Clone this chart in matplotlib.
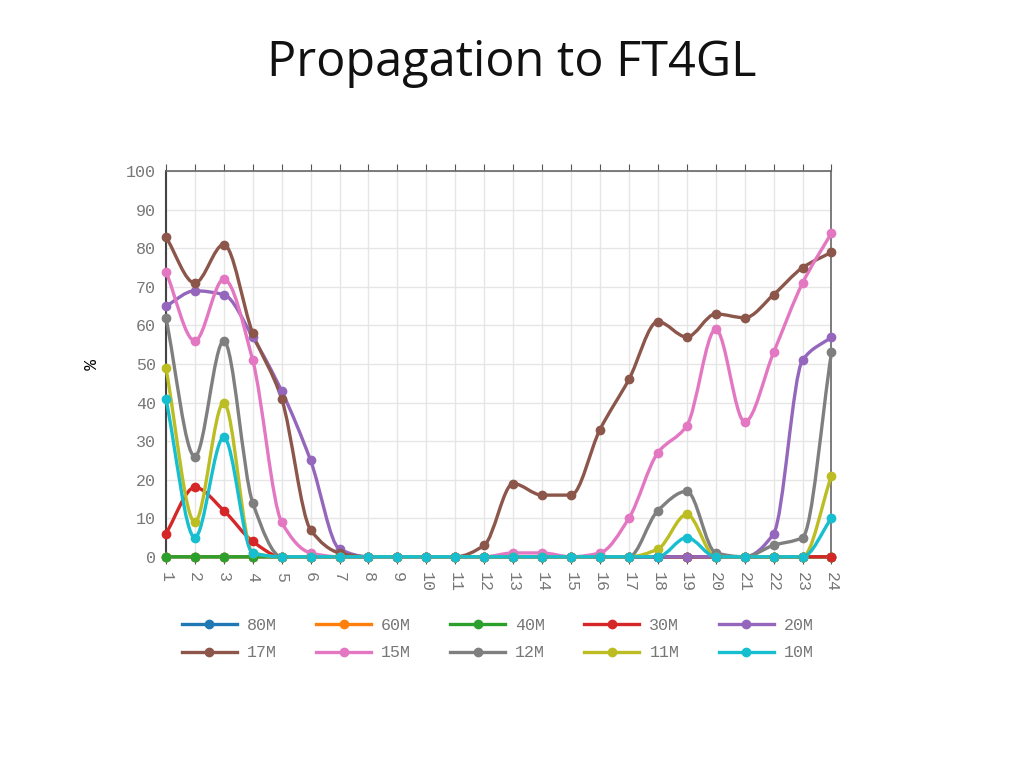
import numpy as np
import matplotlib.pyplot as plt
from matplotlib.path import Path
from matplotlib.patches import PathPatch
from matplotlib.lines import Line2D

# ==============================================================================
# DATI (percentuale per ora UTC)
# ==============================================================================
hours = np.arange(1, 25)

band_80m = [0] * 24
band_60m = [0] * 24
band_40m = [0] * 24
band_30m = [6, 18, 12, 4, 0, 0, 0, 0, 0, 0, 0, 0, 0, 0, 0, 0, 0, 0, 0, 0, 0, 0, 0, 0]
band_20m = [65, 69, 68, 57, 43, 25, 2, 0, 0, 0, 0, 0, 0, 0, 0, 0, 0, 0, 0, 0, 0, 6, 51, 57]
band_17m = [83, 71, 81, 58, 41, 7, 1, 0, 0, 0, 0, 3, 19, 16, 16, 33, 46, 61, 57, 63, 62, 68, 75, 79]
band_15m = [74, 56, 72, 51, 9, 1, 0, 0, 0, 0, 0, 0, 1, 1, 0, 1, 10, 27, 34, 59, 35, 53, 71, 84]
band_12m = [62, 26, 56, 14, 0, 0, 0, 0, 0, 0, 0, 0, 0, 0, 0, 0, 0, 12, 17, 1, 0, 3, 5, 53]
band_11m = [49, 9, 40, 1, 0, 0, 0, 0, 0, 0, 0, 0, 0, 0, 0, 0, 0, 2, 11, 0, 0, 0, 0, 21]
band_10m = [41, 5, 31, 1, 0, 0, 0, 0, 0, 0, 0, 0, 0, 0, 0, 0, 0, 0, 5, 0, 0, 0, 0, 10]

labels = ['80M', '60M', '40M', '30M', '20M', '17M', '15M', '12M', '11M', '10M']
series = [band_80m, band_60m, band_40m, band_30m, band_20m,
          band_17m, band_15m, band_12m, band_11m, band_10m]
colors = ['#1f77b4', '#ff7f0e', '#2ca02c', '#d62728', '#9467bd',
          '#8c564b', '#e377c2', '#7f7f7f', '#bcbd22', '#17becf']

MONO = ['Liberation Mono', 'DejaVu Sans Mono']


def smooth_path(x, y):
    """Curva monotona (Fritsch-Carlson) come Bezier cubiche in coordinate dati."""
    x = np.asarray(x, float)
    y = np.asarray(y, float)
    h = np.diff(x)
    d = np.diff(y) / h
    m = np.zeros_like(y)
    m[0], m[-1] = d[0], d[-1]
    for i in range(1, len(y) - 1):
        if d[i - 1] * d[i] <= 0:
            m[i] = 0.0
        else:
            m[i] = 2.0 / (1.0 / d[i - 1] + 1.0 / d[i])
    verts = [(x[0], y[0])]
    codes = [Path.MOVETO]
    for i in range(len(x) - 1):
        verts += [(x[i] + h[i] / 3, y[i] + m[i] * h[i] / 3),
                  (x[i + 1] - h[i] / 3, y[i + 1] - m[i + 1] * h[i] / 3),
                  (x[i + 1], y[i + 1])]
        codes += [Path.CURVE4] * 3
    return Path(verts, codes)


fig = plt.figure(figsize=(10.24, 7.68), dpi=100)
ax = fig.add_axes([0.162, 0.275, 0.650, 0.502])

for vals, col in zip(series, colors):
    patch = PathPatch(smooth_path(hours, vals), facecolor='none', edgecolor=col,
                      lw=2.4, clip_on=False, zorder=3)
    ax.add_patch(patch)
    ax.plot(hours, vals, 'o', color=col, ms=6, clip_on=False, zorder=4)

ax.set_xlim(1, 24)
ax.set_ylim(0, 100)
ax.set_xticks(hours)
ax.set_xticklabels([str(h) for h in hours], rotation=-90, fontfamily=MONO,
                   fontsize=12, color='#777777')
ax.set_yticks(range(0, 101, 10))
ax.set_yticklabels([str(v) for v in range(0, 101, 10)], fontfamily=MONO,
                   fontsize=12, color='#777777')
ax.tick_params(axis='x', direction='out', length=5, color='#555555', top=True,
               pad=6)
ax.tick_params(axis='y', length=0, pad=7)
ax.grid(True, color='#e6e6e6', lw=1)
ax.set_axisbelow(True)
for side in ['left', 'bottom']:
    ax.spines[side].set_color('#444444')
    ax.spines[side].set_linewidth(1.5)
for side in ['top', 'right']:
    ax.spines[side].set_color('#666666')
    ax.spines[side].set_linewidth(1.2)

ax.set_ylabel('%', rotation=-90, fontsize=13, labelpad=34, fontfamily=MONO)

# legenda per righe: matplotlib riempie per colonne, quindi si alternano le voci
order = [0, 5, 1, 6, 2, 7, 3, 8, 4, 9]
handles = [Line2D([0], [0], color=colors[i], lw=2.4, marker='o', ms=6) for i in order]
fig.legend(handles, [labels[i] for i in order], loc='upper left',
           bbox_to_anchor=(0.163, 0.215), ncol=5, frameon=False,
           prop={'family': MONO, 'size': 12}, handlelength=3.3,
           columnspacing=2.35, handletextpad=0.6, labelspacing=0.75,
           labelcolor='#777777')

fig.text(0.5, 0.917, 'Propagation to FT4GL', ha='center', va='center',
         fontsize=35, fontfamily=['Open Sans', 'DejaVu Sans'], color='#111111')

fig.savefig('out.png', dpi=100)
